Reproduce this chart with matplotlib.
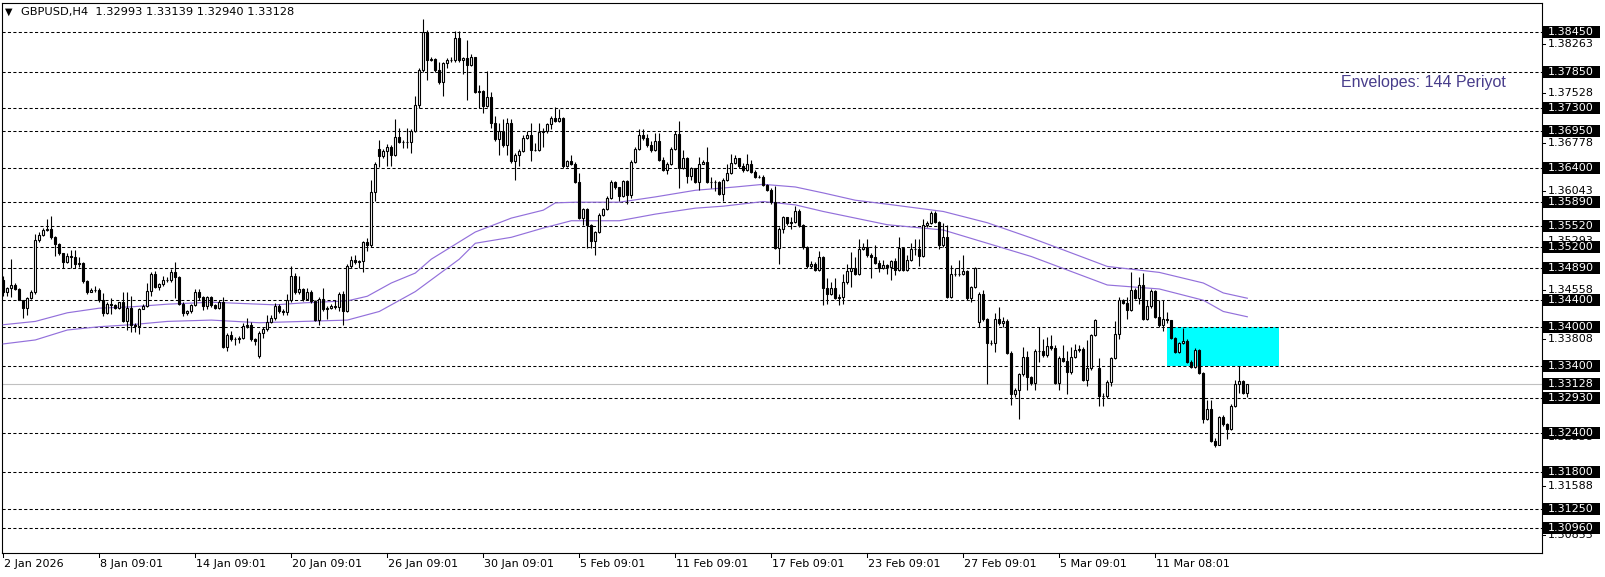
import matplotlib
matplotlib.use("Agg")
import matplotlib.pyplot as plt
import matplotlib.transforms as mtransforms
from matplotlib.patches import Rectangle
import numpy as np

# ---------------- data (GBPUSD H4) ----------------
first_open = 1.3470
gap_opens = {64: 1.3356, 94: 1.3668, 244: 1.3407, 274: 1.3338, 311: 1.32993}

closes = [
    1.3453,1.3458,1.3463,1.3457,1.3441,1.3428,1.3443,1.3453,1.3531,1.3539,
    1.3546,1.3548,1.3535,1.3525,1.3511,1.3498,1.3507,1.3506,1.3494,1.3496,
    1.3469,1.3453,1.3456,1.3456,1.3440,1.3421,1.3435,1.3433,1.3428,1.3437,
    1.3409,1.3429,1.3403,1.3401,1.3427,1.3432,1.3454,1.3479,1.3460,1.3464,
    1.3470,1.3471,1.3483,1.3475,1.3435,1.3421,1.3423,1.3433,1.3453,1.3445,
    1.3431,1.3445,1.3433,1.3429,1.3437,1.3370,1.3388,1.3381,1.3381,1.3383,
    1.3401,1.3403,1.3381,1.3378,1.3391,1.3396,1.3407,1.3413,1.3432,1.3424,
    1.3422,1.3441,1.3476,1.3452,1.3457,1.3442,1.3452,1.3439,1.3410,1.3442,
    1.3426,1.3429,1.3431,1.3430,1.3449,1.3424,1.3491,1.3501,1.3497,1.3499,
    1.3528,1.3523,1.3603,1.3645,1.3658,1.3666,1.3671,1.3660,1.3686,1.3679,
    1.3679,1.3679,1.3696,1.3735,1.3787,1.3845,1.3802,1.3804,1.3787,1.3769,
    1.3798,1.3803,1.3803,1.3836,1.3802,1.3805,1.3795,1.3807,1.3755,1.3756,
    1.3734,1.3747,1.3707,1.3684,1.3695,1.3674,1.3708,1.3650,1.3660,1.3666,
    1.3685,1.3690,1.3667,1.3667,1.3694,1.3695,1.3706,1.3715,1.3711,1.3715,
    1.3642,1.3650,1.3646,1.3619,1.3564,1.3578,1.3553,1.3530,1.3543,1.3569,
    1.3578,1.3595,1.3618,1.3611,1.3598,1.3620,1.3599,1.3649,1.3669,1.3689,
    1.3685,1.3675,1.3667,1.3681,1.3652,1.3637,1.3646,1.3669,1.3691,1.3640,
    1.3655,1.3627,1.3639,1.3619,1.3646,1.3648,1.3619,1.3619,1.3618,1.3601,
    1.3622,1.3632,1.3647,1.3655,1.3642,1.3637,1.3645,1.3634,1.3626,1.3626,
    1.3614,1.3607,1.3588,1.3519,1.3548,1.3565,1.3556,1.3558,1.3575,1.3553,
    1.3520,1.3491,1.3495,1.3486,1.3505,1.3459,1.3450,1.3459,1.3444,1.3445,
    1.3467,1.3484,1.3489,1.3480,1.3518,1.3520,1.3508,1.3506,1.3496,1.3489,
    1.3493,1.3490,1.3499,1.3486,1.3519,1.3486,1.3501,1.3517,1.3518,1.3507,
    1.3553,1.3557,1.3572,1.3558,1.3523,1.3535,1.3445,1.3480,1.3479,1.3480,
    1.3484,1.3443,1.3460,1.3488,1.3449,1.3411,1.3376,1.3375,1.3411,1.3405,
    1.3409,1.3361,1.3299,1.3305,1.3328,1.3355,1.3324,1.3315,1.3364,1.3364,
    1.3358,1.3371,1.3368,1.3315,1.3353,1.3348,1.3331,1.3355,1.3365,1.3366,
    1.3320,1.3337,1.3388,1.3410,1.3295,1.3296,1.3317,1.3353,1.3389,1.3440,
    1.3436,1.3425,1.3456,1.3444,1.3463,1.3412,1.3431,1.3454,1.3415,1.3402,
    1.3411,1.3410,1.3383,1.3362,1.3375,1.3379,1.3347,1.3339,1.3365,1.3330,
    1.3261,1.3275,1.3228,1.3221,1.3263,1.3253,1.3246,1.3281,1.3314,1.3318,
    1.32993,1.33128,
]

highs = [
    1.3476,1.3460,1.3502,1.3466,1.3459,1.3441,1.3445,1.3455,1.3540,1.3543,
    1.3549,1.3562,1.3567,1.3537,1.3527,1.3512,1.3511,1.3516,1.3516,1.3505,
    1.3497,1.3470,1.3459,1.3462,1.3458,1.3451,1.3437,1.3443,1.3435,1.3438,
    1.3452,1.3452,1.3446,1.3405,1.3429,1.3435,1.3466,1.3483,1.3484,1.3466,
    1.3476,1.3475,1.3487,1.3497,1.3476,1.3437,1.3425,1.3434,1.3457,1.3457,
    1.3447,1.3447,1.3446,1.3435,1.3440,1.3445,1.3390,1.3393,1.3384,1.3386,
    1.3406,1.3413,1.3407,1.3383,1.3393,1.3399,1.3418,1.3418,1.3436,1.3434,
    1.3426,1.3449,1.3491,1.3481,1.3476,1.3459,1.3459,1.3455,1.3441,1.3445,
    1.3459,1.3432,1.3434,1.3440,1.3452,1.3454,1.3494,1.3507,1.3509,1.3501,
    1.3530,1.3534,1.3621,1.3648,1.3682,1.3669,1.3676,1.3674,1.3713,1.3700,
    1.3682,1.3700,1.3699,1.3748,1.3791,1.3865,1.3848,1.3808,1.3806,1.3799,
    1.3800,1.3806,1.3808,1.3846,1.3846,1.3808,1.3833,1.3812,1.3806,1.3765,
    1.3758,1.3786,1.3755,1.3718,1.3708,1.3713,1.3715,1.3713,1.3662,1.3668,
    1.3690,1.3695,1.3708,1.3677,1.3708,1.3700,1.3708,1.3718,1.3732,1.3729,
    1.3717,1.3652,1.3660,1.3648,1.3632,1.3580,1.3580,1.3555,1.3545,1.3571,
    1.3580,1.3597,1.3622,1.3620,1.3606,1.3622,1.3622,1.3652,1.3672,1.3699,
    1.3699,1.3691,1.3681,1.3692,1.3692,1.3656,1.3649,1.3671,1.3695,1.3710,
    1.3667,1.3657,1.3641,1.3640,1.3656,1.3651,1.3671,1.3626,1.3621,1.3620,
    1.3624,1.3645,1.3661,1.3659,1.3649,1.3647,1.3661,1.3651,1.3636,1.3629,
    1.3629,1.3616,1.3609,1.3612,1.3550,1.3567,1.3566,1.3566,1.3583,1.3577,
    1.3555,1.3522,1.3499,1.3497,1.3515,1.3507,1.3473,1.3468,1.3473,1.3449,
    1.3480,1.3494,1.3513,1.3506,1.3532,1.3527,1.3533,1.3512,1.3523,1.3500,
    1.3500,1.3495,1.3500,1.3503,1.3535,1.3520,1.3508,1.3526,1.3533,1.3533,
    1.3563,1.3560,1.3574,1.3574,1.3560,1.3556,1.3553,1.3493,1.3489,1.3500,
    1.3508,1.3486,1.3462,1.3490,1.3453,1.3455,1.3413,1.3380,1.3420,1.3430,
    1.3415,1.3412,1.3363,1.3307,1.3330,1.3370,1.3364,1.3326,1.3366,1.3400,
    1.3382,1.3385,1.3387,1.3372,1.3356,1.3372,1.3364,1.3369,1.3374,1.3373,
    1.3369,1.3380,1.3389,1.3412,1.3352,1.3300,1.3319,1.3355,1.3408,1.3445,
    1.3442,1.3445,1.3482,1.3458,1.3475,1.3481,1.3440,1.3457,1.3456,1.3440,
    1.3441,1.3422,1.3407,1.3385,1.3377,1.3398,1.3381,1.3349,1.3368,1.3367,
    1.3332,1.3289,1.3289,1.3232,1.3265,1.3266,1.3255,1.3283,1.3319,1.3341,
    1.3320,1.33139,
]

lows = [
    1.3447,1.3446,1.3445,1.3455,1.3440,1.3413,1.3417,1.3442,1.3450,1.3528,
    1.3537,1.3544,1.3533,1.3507,1.3509,1.3489,1.3496,1.3489,1.3489,1.3490,
    1.3466,1.3450,1.3453,1.3453,1.3438,1.3416,1.3419,1.3419,1.3426,1.3427,
    1.3407,1.3395,1.3392,1.3392,1.3389,1.3426,1.3430,1.3446,1.3458,1.3456,
    1.3462,1.3468,1.3468,1.3443,1.3433,1.3416,1.3418,1.3420,1.3431,1.3440,
    1.3425,1.3427,1.3430,1.3426,1.3426,1.3368,1.3363,1.3378,1.3372,1.3376,
    1.3381,1.3398,1.3378,1.3372,1.3352,1.3383,1.3394,1.3405,1.3410,1.3420,
    1.3418,1.3418,1.3438,1.3450,1.3449,1.3439,1.3440,1.3436,1.3408,1.3402,
    1.3424,1.3411,1.3426,1.3427,1.3424,1.3402,1.3422,1.3488,1.3494,1.3489,
    1.3483,1.3514,1.3521,1.3590,1.3641,1.3655,1.3642,1.3642,1.3658,1.3677,
    1.3670,1.3670,1.3663,1.3694,1.3730,1.3785,1.3773,1.3801,1.3785,1.3766,
    1.3749,1.3790,1.3800,1.3800,1.3799,1.3781,1.3742,1.3793,1.3753,1.3730,
    1.3722,1.3732,1.3700,1.3681,1.3660,1.3671,1.3660,1.3647,1.3622,1.3642,
    1.3664,1.3684,1.3650,1.3665,1.3665,1.3672,1.3692,1.3698,1.3709,1.3709,
    1.3640,1.3641,1.3644,1.3617,1.3562,1.3554,1.3519,1.3519,1.3509,1.3541,
    1.3567,1.3576,1.3593,1.3608,1.3590,1.3596,1.3585,1.3595,1.3647,1.3667,
    1.3682,1.3672,1.3664,1.3665,1.3650,1.3635,1.3630,1.3644,1.3667,1.3610,
    1.3638,1.3617,1.3622,1.3617,1.3606,1.3645,1.3617,1.3610,1.3605,1.3599,
    1.3590,1.3620,1.3630,1.3645,1.3640,1.3634,1.3635,1.3632,1.3624,1.3624,
    1.3612,1.3605,1.3586,1.3517,1.3494,1.3541,1.3553,1.3548,1.3556,1.3551,
    1.3518,1.3489,1.3489,1.3484,1.3484,1.3433,1.3435,1.3448,1.3442,1.3433,
    1.3435,1.3465,1.3460,1.3478,1.3478,1.3516,1.3506,1.3474,1.3494,1.3483,
    1.3487,1.3480,1.3470,1.3478,1.3484,1.3484,1.3484,1.3499,1.3508,1.3491,
    1.3505,1.3551,1.3555,1.3556,1.3518,1.3521,1.3443,1.3443,1.3476,1.3477,
    1.3478,1.3441,1.3438,1.3458,1.3399,1.3409,1.3314,1.3372,1.3362,1.3403,
    1.3400,1.3359,1.3282,1.3294,1.3260,1.3326,1.3304,1.3312,1.3304,1.3347,
    1.3355,1.3355,1.3365,1.3313,1.3305,1.3346,1.3298,1.3329,1.3353,1.3362,
    1.3318,1.3311,1.3335,1.3386,1.3281,1.3281,1.3293,1.3311,1.3351,1.3382,
    1.3434,1.3412,1.3423,1.3442,1.3435,1.3410,1.3410,1.3429,1.3413,1.3400,
    1.3394,1.3405,1.3381,1.3360,1.3360,1.3374,1.3345,1.3337,1.3337,1.3329,
    1.3255,1.3259,1.3226,1.3218,1.3230,1.3250,1.3230,1.3244,1.3279,1.3300,
    1.3298,1.32940,
]

# Envelopes (144) upper / lower bands, read at bar indices
env_up_idx = [0, 8, 16, 24, 32, 41, 52, 68, 75, 86, 91, 97, 103, 107, 118, 127, 135, 138, 143,
              154, 163, 173, 183, 190, 198, 205, 213, 221, 235, 246, 257, 265, 276, 289, 300, 305, 311]
env_up = [1.3403, 1.3408, 1.3421, 1.3428, 1.3430, 1.3434, 1.3437, 1.3433, 1.3436, 1.3439, 1.3446,
          1.3466, 1.3481, 1.3502, 1.3543, 1.3564, 1.3576, 1.3587, 1.3588, 1.3588, 1.3596, 1.3606,
          1.3611, 1.3615, 1.3611, 1.3602, 1.3591, 1.3585, 1.3574, 1.3557, 1.3534, 1.3516, 1.3491,
          1.3482, 1.3466, 1.3451, 1.3443]
env_lo_idx = [0, 8, 16, 24, 32, 41, 52, 64, 75, 86, 94, 103, 114, 118, 127, 135, 142, 154, 163,
              173, 180, 190, 198, 205, 221, 235, 246, 257, 276, 289, 300, 305, 311]
env_lo = [1.3374, 1.3380, 1.3395, 1.3400, 1.3403, 1.3408, 1.3410, 1.3406, 1.3408, 1.3410, 1.3423,
          1.3453, 1.3502, 1.3526, 1.3535, 1.3549, 1.3560, 1.3560, 1.3570, 1.3579, 1.3582, 1.3589,
          1.3584, 1.3574, 1.3554, 1.3546, 1.3526, 1.3506, 1.3463, 1.3457, 1.3440, 1.3423, 1.3415]

levels = [1.38450, 1.37850, 1.37300, 1.36950, 1.36400, 1.35890, 1.35520, 1.35200, 1.34890,
          1.34400, 1.34000, 1.33400, 1.32930, 1.32400, 1.31800, 1.31250, 1.30960]
current_price = 1.33128
axis_ticks = [1.38263, 1.37528, 1.36778, 1.36043, 1.35293, 1.34558, 1.33808,
              1.32338, 1.31588, 1.30853]

zone_bars = (291, 319)
zone_prices = (1.33400, 1.34000)

xtick_idx = [0, 24, 48, 72, 96, 120, 144, 168, 192, 216, 240, 264, 288]
xtick_labels = ["2 Jan 2026", "8 Jan 09:01", "14 Jan 09:01", "20 Jan 09:01", "26 Jan 09:01",
                "30 Jan 09:01", "5 Feb 09:01", "11 Feb 09:01", "17 Feb 09:01", "23 Feb 09:01",
                "27 Feb 09:01", "5 Mar 09:01", "11 Mar 08:01"]

header = "GBPUSD,H4  1.32993 1.33139 1.32940 1.33128"
env_label = "Envelopes: 144 Periyot"

# ---------------- figure ----------------
W, H = 1606, 577
fig = plt.figure(figsize=(W / 100, H / 100), dpi=100)
fig.patch.set_facecolor("white")
ax = fig.add_axes([2.5 / W, 1 - 553 / H, 1540 / W, 550 / H])
ax.set_xlim(-0.2, 384.8)
ax.set_ylim(1.30583, 1.38888)
ax.set_xticks([])
ax.set_yticks([])
for s in ax.spines.values():
    s.set_linewidth(0.8)
    s.set_color("black")
ax.set_facecolor("white")

n = len(closes)
assert len(highs) == n and len(lows) == n, (n, len(highs), len(lows))
c = np.array(closes)
o = np.concatenate([[first_open], c[:-1]])
for k, v in gap_opens.items():
    o[k] = v
h = np.maximum(np.array(highs), np.maximum(o, c))
l = np.minimum(np.array(lows), np.minimum(o, c))
x = np.arange(n)

# zone rectangle
ax.add_patch(Rectangle((zone_bars[0], zone_prices[0]), zone_bars[1] - zone_bars[0],
                       zone_prices[1] - zone_prices[0], facecolor="#00FFFF",
                       edgecolor="none", zorder=1))

# levels
for lv in levels:
    ax.axhline(lv, color="black", lw=0.75, ls=(0, (3, 2.2)), zorder=2)
ax.axhline(current_price, color="#C0C0C0", lw=0.8, zorder=2)

# envelopes
ax.plot(env_up_idx, env_up, color="#9370DB", lw=0.85, zorder=3)
ax.plot(env_lo_idx, env_lo, color="#9370DB", lw=0.85, zorder=3)

# candles
ax.vlines(x, l, h, color="black", lw=0.8, zorder=4)
up = c >= o
ax.bar(x[up], (c - o)[up], bottom=o[up], width=0.55, facecolor="white",
       edgecolor="black", linewidth=0.8, zorder=5)
ax.bar(x[~up], (o - c)[~up], bottom=c[~up], width=0.55, facecolor="black",
       edgecolor="black", linewidth=0.8, zorder=5)

# right price scale
tr_r = mtransforms.blended_transform_factory(ax.transAxes, ax.transData)
px_x = 1.0 / 1540
px_y = 0.0749 / 496
for t in axis_ticks:
    ax.plot([1.0, 1.0 + 3 * px_x], [t, t], color="black", lw=0.75, transform=tr_r,
            clip_on=False, zorder=8)
    ax.text(1.0 + 5 * px_x, t, f"{t:.5f}", transform=tr_r, fontsize=8, color="black",
            va="center", ha="left", clip_on=False, zorder=9)
for lv in levels + [current_price]:
    ax.add_patch(Rectangle((1.0 + 1 * px_x, lv - 6 * px_y), 57 * px_x, 12 * px_y,
                           transform=tr_r, facecolor="black", edgecolor="none",
                           clip_on=False, zorder=10))
    ax.text(1.0 + 5 * px_x, lv, f"{lv:.5f}", transform=tr_r, fontsize=8, color="white",
            va="center", ha="left", clip_on=False, zorder=11)

# bottom time scale
tr_b = mtransforms.blended_transform_factory(ax.transData, ax.transAxes)
py_ax = 1.0 / 550
for idx, lab in zip(xtick_idx, xtick_labels):
    ax.plot([idx, idx], [0, -4 * py_ax], color="black", lw=0.75, transform=tr_b,
            clip_on=False)
    ax.text(idx + 0.1, -11 * py_ax, lab, transform=tr_b, fontsize=8, ha="left",
            va="center", clip_on=False)

# header and indicator label
fig.text(5 / W, 1 - 12 / H, "\u25BC", fontsize=7, va="center", ha="left", color="black")
fig.text(21 / W, 1 - 12 / H, header, fontsize=8.2, va="center", ha="left", color="black")
fig.text(1506 / W, 1 - 83 / H, env_label, fontsize=11.5, va="center", ha="right",
         color="#483D8B", family="Liberation Sans")

fig.savefig("out.png", dpi=100, facecolor="white")
